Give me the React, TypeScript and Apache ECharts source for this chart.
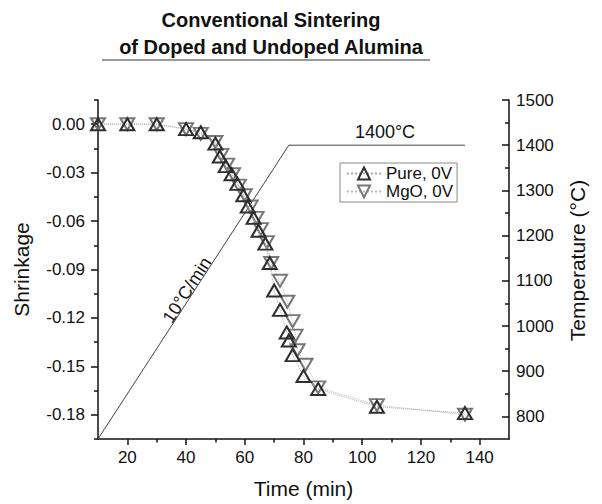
import React, { useEffect, useRef } from "react";
import * as echarts from "echarts";

// ---- Data ----
const pureTime = [10, 20, 30, 40, 45, 50, 51.5, 53.5, 55.5, 57.5, 59.5, 61, 63, 64.7, 67, 68.5, 70, 72, 74.3, 75, 76.3, 80, 85, 105, 135];
const pureShrink = [0, 0, 0, -0.003, -0.005, -0.012, -0.02, -0.026, -0.031, -0.037, -0.044, -0.051, -0.058, -0.066, -0.074, -0.086, -0.103, -0.115, -0.129, -0.134, -0.143, -0.156, -0.164, -0.175, -0.179];

const mgoTime = [10, 20, 30, 40, 45, 50, 52, 54, 56, 58, 60, 62, 64, 65.5, 67.5, 69, 72, 74.5, 76.3, 77.3, 78, 80.7, 85, 105, 135];
const mgoShrink = [0, 0, 0, -0.003, -0.006, -0.011, -0.019, -0.025, -0.031, -0.038, -0.044, -0.051, -0.058, -0.065, -0.073, -0.086, -0.097, -0.11, -0.122, -0.131, -0.14, -0.149, -0.163, -0.174, -0.18];

const tempTime = [10, 75, 135];
const tempValue = [750, 1400, 1400];

const xLabels = [20, 40, 60, 80, 100, 120, 140];
const xMinorTicks = [30, 50, 70, 90, 110, 130];
const yLabels = [-0.18, -0.15, -0.12, -0.09, -0.06, -0.03, 0];
const yMinorTicks = [-0.195, -0.165, -0.135, -0.105, -0.075, -0.045, -0.015, 0.015];
const tLabels = [800, 900, 1000, 1100, 1200, 1300, 1400, 1500];
const tMinorTicks = [850, 950, 1050, 1150, 1250, 1350, 1450];

const seriesNames = ["Pure, 0V", "MgO, 0V"];

const FONT = "'Liberation Sans', Arial, Helvetica, sans-serif";
const UP = "path://M5,0 L10,8.66 L0,8.66 Z";
const DOWN = "path://M0,0 L10,0 L5,8.66 Z";

export default function App() {
  const ref = useRef<HTMLDivElement>(null);

  useEffect(() => {
    if (!ref.current) return;
    const chart = echarts.init(ref.current, undefined, { renderer: "svg" });

    const axisLine = { show: true, onZero: false, lineStyle: { color: "#111", width: 1.5 } };
    const noLine = { show: false, onZero: false };
    const tickStyle = { color: "#111", width: 1.5 };
    const labelStyle = { fontSize: 17, color: "#111", fontFamily: FONT };

    const option: any = {
      animation: false,
      backgroundColor: "#fff",
      textStyle: { fontFamily: FONT },
      title: {
        text: "Conventional Sintering\nof Doped and Undoped Alumina",
        left: 266,
        top: 1,
        textAlign: "center",
        textStyle: { fontSize: 20, fontWeight: "bold", color: "#111", lineHeight: 27, fontFamily: FONT },
      },
      grid: { left: 98, right: 93, top: 100, bottom: 62 },
      legend: {
        data: seriesNames,
        orient: "vertical",
        left: 340,
        top: 163,
        itemWidth: 34,
        itemHeight: 15,
        itemGap: 1,
        padding: [2, 4, 2, 6],
        borderColor: "#888",
        borderWidth: 1,
        textStyle: { fontSize: 17, color: "#111", fontFamily: FONT },
      },
      xAxis: [
        {
          type: "value",
          min: 10,
          max: 150,
          position: "bottom",
          axisLine,
          splitLine: { show: false },
          axisTick: { show: true, customValues: xLabels, length: 6, lineStyle: tickStyle },
          axisLabel: { ...labelStyle, customValues: xLabels, margin: 10, formatter: (v: number) => String(v) },
          name: "Time (min)",
          nameLocation: "middle",
          nameGap: 39,
          nameTextStyle: { fontSize: 21, color: "#111", fontFamily: FONT },
        },
        {
          type: "value",
          min: 10,
          max: 150,
          position: "bottom",
          axisLine: noLine,
          splitLine: { show: false },
          axisTick: { show: true, customValues: xMinorTicks, length: 3.5, lineStyle: tickStyle },
          axisLabel: { show: false },
        },
      ],
      yAxis: [
        {
          type: "value",
          min: -0.195,
          max: 0.015,
          position: "left",
          axisLine,
          splitLine: { show: false },
          axisTick: { show: true, customValues: yLabels, length: 7, lineStyle: tickStyle },
          axisLabel: {
            ...labelStyle,
            customValues: yLabels,
            margin: 13,
            formatter: (v: number) => Number(v).toFixed(2),
          },
          name: "Shrinkage",
          nameLocation: "middle",
          nameGap: 66,
          nameTextStyle: { fontSize: 21, color: "#111", fontFamily: FONT },
        },
        {
          type: "value",
          min: -0.195,
          max: 0.015,
          position: "left",
          axisLine: noLine,
          splitLine: { show: false },
          axisTick: { show: true, customValues: yMinorTicks, length: 4, lineStyle: tickStyle },
          axisLabel: { show: false },
        },
        {
          type: "value",
          min: 750,
          max: 1500,
          position: "right",
          axisLine,
          splitLine: { show: false },
          axisTick: { show: true, inside: true, customValues: tLabels, length: 7, lineStyle: tickStyle },
          axisLabel: { ...labelStyle, customValues: tLabels, margin: 7, formatter: (v: number) => String(v) },
          name: "Temperature (°C)",
          nameLocation: "middle",
          nameGap: 58,
          nameTextStyle: { fontSize: 21, color: "#111", fontFamily: FONT, padding: [0, 0, 0, 18] },
        },
        {
          type: "value",
          min: 750,
          max: 1500,
          position: "right",
          axisLine: noLine,
          splitLine: { show: false },
          axisTick: { show: true, inside: true, customValues: tMinorTicks, length: 4, lineStyle: tickStyle },
          axisLabel: { show: false },
        },
      ],
      series: [
        {
          name: "Temperature",
          type: "line",
          xAxisIndex: 0,
          yAxisIndex: 2,
          data: tempTime.map((t, i) => [t, tempValue[i]]),
          symbol: "none",
          lineStyle: { color: "#444", width: 1 },
          z: 1,
        },
        {
          name: seriesNames[0],
          type: "line",
          xAxisIndex: 0,
          yAxisIndex: 0,
          data: pureTime.map((t, i) => [t, pureShrink[i]]),
          symbol: UP,
          symbolSize: [14, 12],
          showAllSymbol: true,
          itemStyle: { color: "rgba(255,255,255,0)", borderColor: "#2e2e2e", borderWidth: 2 },
          lineStyle: { color: "#aaa", width: 1, type: "dotted" },
          z: 3,
        },
        {
          name: seriesNames[1],
          type: "line",
          xAxisIndex: 0,
          yAxisIndex: 0,
          data: mgoTime.map((t, i) => [t, mgoShrink[i]]),
          symbol: DOWN,
          symbolSize: [14, 12],
          showAllSymbol: true,
          itemStyle: { color: "rgba(255,255,255,0)", borderColor: "#777", borderWidth: 2 },
          lineStyle: { color: "#bbb", width: 1, type: "dotted" },
          z: 2,
        },
      ],
      graphic: [
        {
          type: "line",
          shape: { x1: 102, y1: 60, x2: 430, y2: 60 },
          style: { stroke: "#777", lineWidth: 1.5 },
        },
        {
          type: "text",
          x: 385,
          y: 132,
          style: { text: "1400°C", fill: "#111", font: `18px ${FONT}`, textAlign: "center", textVerticalAlign: "middle" },
        },
        {
          type: "text",
          x: 187,
          y: 290,
          rotation: 1.0,
          style: { text: "10°C/min", fill: "#111", font: `18px ${FONT}`, textAlign: "center", textVerticalAlign: "middle" },
        },
      ],
    };

    chart.setOption(option);
    return () => chart.dispose();
  }, []);

  return <div ref={ref} style={{ position: "fixed", left: 0, top: 0, width: 602, height: 504 }} />;
}
